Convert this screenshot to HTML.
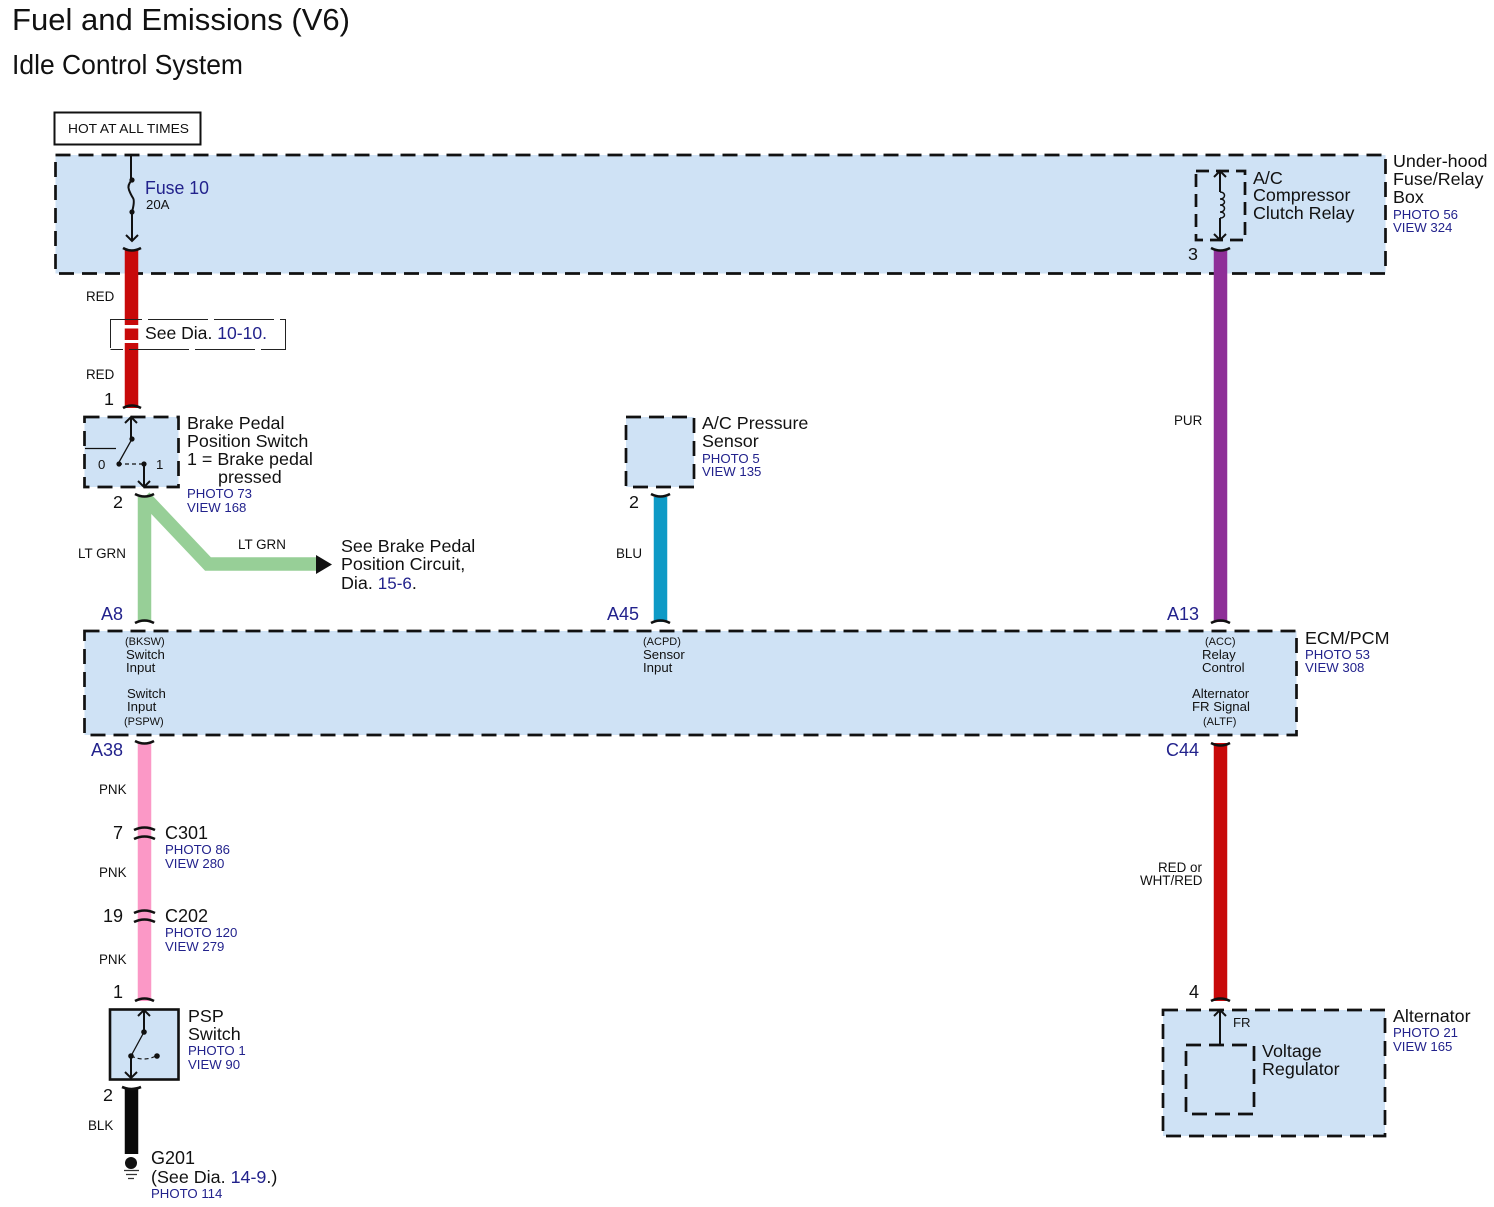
<!DOCTYPE html>
<html><head><meta charset="utf-8"><style>
html,body{margin:0;padding:0;background:#fff}
svg{display:block;filter:blur(0.35px)}
text{font-family:"Liberation Sans",Arial,sans-serif;fill:#111}
.b{fill:#1f1f9a}.n{fill:#22228c}
.t18{font-size:17.9px}.t17{font-size:18px}.t14{font-size:14px}.t13{font-size:13.2px}.t12{font-size:13.4px}.t11{font-size:11px}
.box{fill:#cfe2f5;stroke:#111;stroke-width:2.7;stroke-dasharray:15 8}
.in{fill:none;stroke:#111;stroke-width:2.7;stroke-dasharray:15 8}
.w{fill:none;stroke-width:13.5}
.cap{fill:none;stroke:#111;stroke-width:2.6}
.l{fill:none;stroke:#111;stroke-width:2}
.thin{fill:none;stroke:#111;stroke-width:1.300}
</style></head><body>
<svg width="1494" height="1207" viewBox="0 0 1494 1207" xmlns="http://www.w3.org/2000/svg">
<rect width="1494" height="1207" fill="#fff"/>
<text x="12" y="30" font-size="31" textLength="338" lengthAdjust="spacingAndGlyphs">Fuel and Emissions (V6)</text>
<text x="12" y="74" font-size="27.500" textLength="231" lengthAdjust="spacingAndGlyphs">Idle Control System</text>

<rect x="54.500" y="112.500" width="146" height="32" fill="#fff" stroke="#111" stroke-width="2"/>
<text x="68" y="133" font-size="12.800" textLength="121" lengthAdjust="spacingAndGlyphs">HOT AT ALL TIMES</text>

<!-- boxes -->
<rect x="55.500" y="155" width="1330" height="118.500" class="box"/>
<rect x="84.500" y="417" width="94" height="70" class="box"/>
<rect x="626" y="417" width="68" height="70" class="box"/>
<rect x="84.500" y="631" width="1212" height="104" class="box"/>
<rect x="110" y="1009.500" width="68.500" height="70" fill="#cfe2f5" stroke="#111" stroke-width="2.600"/>
<rect x="1163" y="1010" width="222" height="126" class="box"/>
<rect x="1186" y="1045" width="68" height="69" class="in"/>
<rect x="1196" y="171" width="49" height="69" fill="none" stroke="#111" stroke-width="2.700" stroke-dasharray="13 7"/>

<!-- wires -->
<path d="M131.500 250V408" class="w" stroke="#c80a0a"/>
<path d="M144.500 497V622M144.500 497L208 564H316" class="w" stroke="#97cf97" stroke-linejoin="miter"/>
<path d="M316 555L332 564.500 316 574Z" fill="#111"/>
<path d="M660.500 497V622" class="w" stroke="#0e9ac6"/>
<path d="M1220.500 250V622" class="w" stroke="#8e2f98"/>
<path d="M144.500 743V1001" class="w" stroke="#fb98c6"/>
<path d="M1220.500 743V1001" class="w" stroke="#c80a0a"/>
<path d="M131.500 1088V1154" class="w" stroke="#0a0a0a"/>

<!-- See Dia box -->
<path d="M110.500 348V319.500H285.500V349.500H110.500" fill="none" stroke="#222" stroke-width="1" stroke-dasharray="60 6"/>
<rect x="124" y="325" width="15" height="3.500" fill="#fff"/>
<rect x="124" y="340" width="15" height="3" fill="#fff"/>
<text x="145" y="339" class="t18" textLength="122" lengthAdjust="spacingAndGlyphs">See <tspan>Dia.</tspan> <tspan class="n">10-10.</tspan></text>

<!-- caps -->
<path d="M123 248Q131.500 253 141 248M123 408Q131.500 403 141 408" class="cap"/>
<path d="M1211 248Q1220.500 253 1230 248M1211 623Q1220.500 618 1230 623M1211 743Q1220.500 748 1230 743M1211 1001Q1220.500 996 1230 1001" class="cap"/>
<path d="M135 494Q144.500 499 154 494M135 623Q144.500 618 154 623M135 741Q144.500 746 154 741" class="cap"/>
<path d="M134 830Q144.500 825 155 830M134 839Q144.500 834 155 839M134 913Q144.500 908 155 913M134 922Q144.500 917 155 922M135 1001Q144.500 996 154 1001" class="cap"/>
<path d="M651 494Q660.500 499 670 494M651 623Q660.500 618 670 623" class="cap"/>
<path d="M122 1087Q131.500 1091 141 1087" class="cap"/>

<!-- fuse -->
<path d="M131 155V180M132 212V241M126 235L132 241 138 235" class="l"/>
<path d="M132 180Q127 185 129 190T133 198T132 212" class="l"/>
<circle cx="132" cy="180" r="2.600" fill="#111"/><circle cx="132" cy="212" r="2.600" fill="#111"/>
<text x="145" y="194" class="t17 n" textLength="64" lengthAdjust="spacingAndGlyphs">Fuse 10</text>
<text x="146" y="209" class="t13">20A</text>

<!-- relay -->
<path d="M1220 171V192M1220 218V240M1214 177L1220 171 1226 177M1214 234L1220 240 1226 234" class="l"/>
<path d="M1220 192C1226 192 1226 199 1220 199C1226 199 1226 205 1220 205C1226 205 1226 212 1220 212C1226 212 1226 218 1220 218" fill="none" stroke="#111" stroke-width="1.500"/>
<text class="t18"><tspan x="1253" y="184">A/C</tspan><tspan x="1253" y="201">Compressor</tspan><tspan x="1253" y="219">Clutch Relay</tspan></text>
<text x="1188" y="260" class="t18">3</text>
<text class="t18"><tspan x="1393" y="167">Under-hood</tspan><tspan x="1393" y="185">Fuse/Relay</tspan><tspan x="1393" y="203">Box</tspan></text>
<text class="t13 n"><tspan x="1393" y="219">PHOTO 56</tspan><tspan x="1393" y="232">VIEW 324</tspan></text>

<text x="86" y="301" class="t12">RED</text>
<text x="86" y="379" class="t12">RED</text>
<text x="104" y="405" class="t18">1</text>

<!-- brake switch -->
<path d="M131 417V440M125 423L131 417 137 423M144 464V487M138 481L144 487 150 481" class="l"/>
<path d="M132 439L118 464M85 448.500H116" class="thin"/>
<path d="M118 464L144 464" fill="none" stroke="#111" stroke-width="1.200" stroke-dasharray="4 3"/>
<circle cx="132" cy="439" r="2.600" fill="#111"/><circle cx="119" cy="464" r="2.600" fill="#111"/><circle cx="144" cy="464" r="2.600" fill="#111"/>
<text x="98" y="469" class="t13">0</text><text x="156" y="469" class="t13">1</text>
<text class="t18"><tspan x="187" y="429">Brake Pedal</tspan><tspan x="187" y="447">Position Switch</tspan><tspan x="187" y="465">1 = Brake pedal</tspan><tspan x="218" y="483">pressed</tspan></text>
<text class="t13 n"><tspan x="187" y="498">PHOTO 73</tspan><tspan x="187" y="512">VIEW 168</tspan></text>
<text x="113" y="508" class="t18">2</text>
<text x="78" y="558" class="t12">LT GRN</text>
<text x="238" y="549" class="t12">LT GRN</text>
<text class="t18"><tspan x="341" y="552">See Brake Pedal</tspan><tspan x="341" y="570">Position Circuit,</tspan><tspan x="341" y="589">Dia. <tspan class="n" font-size="17">15-6</tspan>.</tspan></text>

<!-- AC pressure -->
<text class="t18"><tspan x="702" y="429">A/C Pressure</tspan><tspan x="702" y="447">Sensor</tspan></text>
<text class="t13 n"><tspan x="702" y="463">PHOTO 5</tspan><tspan x="702" y="476">VIEW 135</tspan></text>
<text x="629" y="508" class="t18">2</text>
<text x="616" y="558" class="t12">BLU</text>
<text x="1174" y="425" class="t12">PUR</text>

<!-- pin names -->
<text x="101" y="620" class="t17 n">A8</text>
<text x="607" y="620" class="t17 n">A45</text>
<text x="1167" y="620" class="t17 n">A13</text>
<text x="91" y="756" class="t17 n">A38</text>
<text x="1166" y="756" class="t17 n">C44</text>

<!-- ECM text -->
<text class="t11"><tspan x="125" y="645">(BKSW)</tspan></text>
<text class="t13"><tspan x="126" y="659">Switch</tspan><tspan x="126" y="672">Input</tspan><tspan x="127" y="698">Switch</tspan><tspan x="127" y="711">Input</tspan></text>
<text x="124" y="725" class="t11">(PSPW)</text>
<text x="643" y="645" class="t11">(ACPD)</text>
<text class="t13"><tspan x="643" y="659">Sensor</tspan><tspan x="643" y="672">Input</tspan></text>
<text x="1205" y="645" class="t11">(ACC)</text>
<text class="t13"><tspan x="1202" y="659">Relay</tspan><tspan x="1202" y="672">Control</tspan><tspan x="1192" y="698">Alternator</tspan><tspan x="1192" y="711">FR Signal</tspan></text>
<text x="1203" y="725" class="t11">(ALTF)</text>
<text x="1305" y="644" class="t18">ECM/PCM</text>
<text class="t13 n"><tspan x="1305" y="659">PHOTO 53</tspan><tspan x="1305" y="672">VIEW 308</tspan></text>

<!-- lower left -->
<text x="99" y="794" class="t12">PNK</text>
<text x="99" y="877" class="t12">PNK</text>
<text x="99" y="964" class="t12">PNK</text>
<text x="113" y="839" class="t17">7</text>
<text x="103" y="922" class="t17">19</text>
<text x="165" y="839" class="t17">C301</text>
<text class="t13 n"><tspan x="165" y="854">PHOTO 86</tspan><tspan x="165" y="868">VIEW 280</tspan></text>
<text x="165" y="922" class="t17">C202</text>
<text class="t13 n"><tspan x="165" y="937">PHOTO 120</tspan><tspan x="165" y="951">VIEW 279</tspan></text>
<text x="113" y="998" class="t17">1</text>

<!-- PSP -->
<path d="M144 1010V1032M138 1016L144 1010 150 1016M131 1056V1078M125 1072L131 1078 137 1072" class="l"/>
<path d="M144 1032L131 1056" class="thin"/>
<path d="M131 1056Q144 1062 156 1056" fill="none" stroke="#111" stroke-width="1.200" stroke-dasharray="4 3"/>
<circle cx="144" cy="1032" r="2.800" fill="#111"/><circle cx="131" cy="1056" r="2.800" fill="#111"/><circle cx="157" cy="1056" r="2.800" fill="#111"/>
<text class="t18"><tspan x="188" y="1022">PSP</tspan><tspan x="188" y="1040">Switch</tspan></text>
<text class="t13 n"><tspan x="188" y="1055">PHOTO 1</tspan><tspan x="188" y="1069">VIEW 90</tspan></text>
<text x="103" y="1101" class="t18">2</text>
<text x="88" y="1130" class="t12">BLK</text>

<!-- ground -->
<circle cx="131" cy="1163" r="6" fill="#111"/>
<path d="M124 1170.500H139M126 1174.500H137M128 1178.500H134" fill="none" stroke="#333" stroke-width="1.300"/>
<text x="151" y="1164" class="t17">G201</text>
<text x="151" y="1183" class="t18">(See Dia. <tspan class="n">14-9</tspan>.)</text>
<text x="151" y="1198" class="t13 n">PHOTO 114</text>

<!-- right lower -->
<text x="1158" y="872" class="t12">RED or</text>
<text x="1140" y="885" class="t12">WHT/RED</text>
<text x="1189" y="998" class="t17">4</text>
<path d="M1220 1010V1045M1214 1016L1220 1010 1226 1016" class="l"/>
<text x="1233" y="1027" class="t13">FR</text>
<text class="t18"><tspan x="1262" y="1057">Voltage</tspan><tspan x="1262" y="1075">Regulator</tspan></text>
<text x="1393" y="1022" class="t18">Alternator</text>
<text class="t13 n"><tspan x="1393" y="1037">PHOTO 21</tspan><tspan x="1393" y="1051">VIEW 165</tspan></text>
</svg>
</body></html>
